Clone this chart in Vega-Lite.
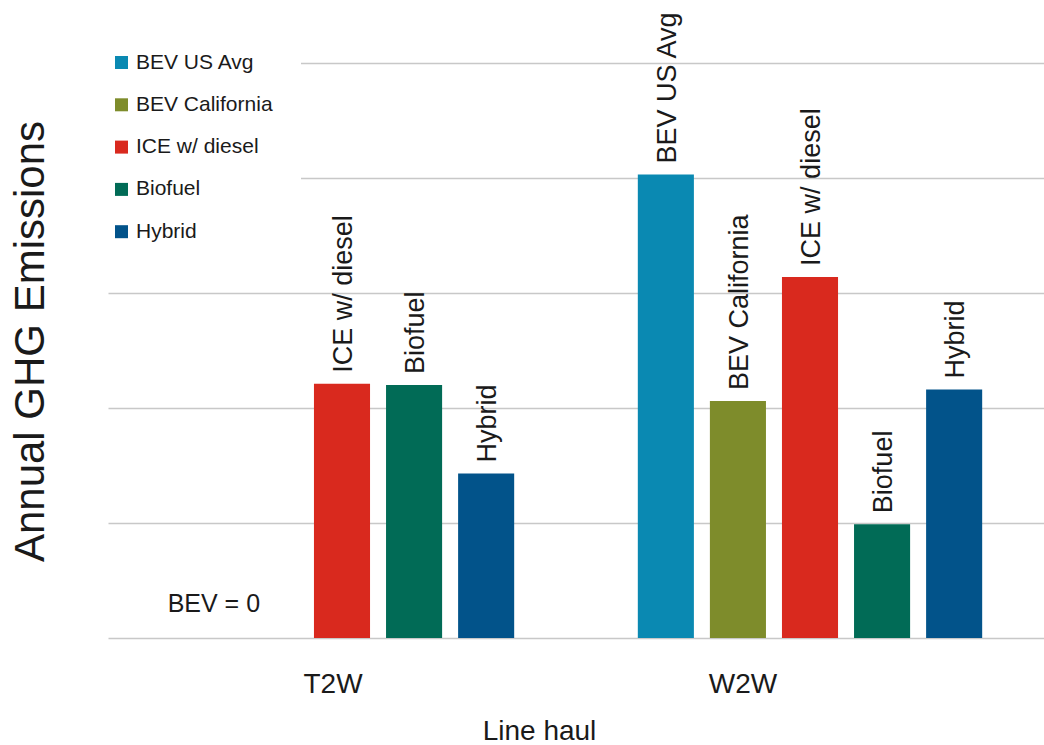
{
  "$schema": "https://vega.github.io/schema/vega-lite/v6.json",
  "width": 936,
  "height": 575,
  "autosize": {"type": "none"},
  "padding": {"left": 108, "top": 63, "right": 0, "bottom": 107},
  "background": "white",
  "config": {
    "view": {"stroke": null},
    "font": "Liberation Sans",
    "text": {"font": "Liberation Sans"}
  },
  "data": {
    "values": [
      {"group": "T2W", "vehicle": "BEV US Avg", "value": 0},
      {"group": "T2W", "vehicle": "BEV California", "value": 0},
      {"group": "T2W", "vehicle": "ICE w/ diesel", "value": 2.21},
      {"group": "T2W", "vehicle": "Biofuel", "value": 2.2},
      {"group": "T2W", "vehicle": "Hybrid", "value": 1.43},
      {"group": "W2W", "vehicle": "BEV US Avg", "value": 4.03},
      {"group": "W2W", "vehicle": "BEV California", "value": 2.06},
      {"group": "W2W", "vehicle": "ICE w/ diesel", "value": 3.14},
      {"group": "W2W", "vehicle": "Biofuel", "value": 0.99},
      {"group": "W2W", "vehicle": "Hybrid", "value": 2.16}
    ]
  },
  "encoding": {
    "x": {
      "field": "group",
      "type": "nominal",
      "scale": {"paddingInner": 0.23, "paddingOuter": 0.115},
      "axis": {
        "orient": "bottom",
        "domain": false,
        "ticks": false,
        "tickSize": 0,
        "labelAngle": 0,
        "labelFontSize": 28,
        "labelColor": "#1a1a1a",
        "labelPadding": 32,
        "labelOffset": {"condition": {"test": "datum.value === 'W2W'", "value": -67}, "value": -9},
        "title": "Line haul",
        "titleFontSize": 28,
        "titleFontWeight": "normal",
        "titleColor": "#1a1a1a",
        "titleX": 431,
        "titleY": 101,
        "titleAlign": "center",
        "titleBaseline": "alphabetic"
      }
    },
    "xOffset": {
      "field": "vehicle",
      "type": "nominal",
      "scale": {
        "domain": ["BEV US Avg", "BEV California", "ICE w/ diesel", "Biofuel", "Hybrid"],
        "paddingInner": 0.222,
        "paddingOuter": 0.111
      }
    },
    "y": {
      "field": "value",
      "type": "quantitative",
      "scale": {"domain": [0, 5], "nice": false},
      "axis": {
        "values": [0, 1, 2, 3, 4, 5],
        "domain": false,
        "ticks": false,
        "labels": false,
        "grid": true,
        "gridColor": "#c8c8c8",
        "gridWidth": 1.5,
        "title": "Annual GHG Emissions",
        "titleFontSize": 42,
        "titleFontWeight": "normal",
        "titleColor": "#1a1a1a",
        "titleAngle": -90,
        "titleX": -65,
        "titleY": 278,
        "titleAlign": "center",
        "titleBaseline": "alphabetic"
      }
    }
  },
  "layer": [
    {
      "mark": {"type": "bar"},
      "encoding": {
        "color": {
          "field": "vehicle",
          "type": "nominal",
          "scale": {
            "domain": ["BEV US Avg", "BEV California", "ICE w/ diesel", "Biofuel", "Hybrid"],
            "range": ["#0a89b2", "#7e8c2b", "#d9291e", "#016b56", "#02538a"]
          },
          "legend": {
            "orient": "none",
            "legendX": -25,
            "legendY": -39,
            "padding": 28,
            "fillColor": "white",
            "title": null,
            "symbolType": "square",
            "symbolSize": 169,
            "symbolStrokeWidth": 0,
            "labelFontSize": 21,
            "labelColor": "#1a1a1a",
            "labelOffset": 4,
            "rowPadding": 20.3,
            "labelLimit": 400
          }
        }
      }
    },
    {
      "transform": [{"filter": "datum.value > 0"}],
      "mark": {
        "type": "text",
        "angle": -90,
        "align": "left",
        "baseline": "alphabetic",
        "dx": 11,
        "dy": 10,
        "fontSize": 27,
        "color": "#1a1a1a"
      },
      "encoding": {"text": {"field": "vehicle"}}
    },
    {
      "data": {"values": [{"group": "T2W", "vehicle": "BEV US Avg", "value": 0, "note": "BEV = 0"}]},
      "mark": {
        "type": "text",
        "align": "center",
        "baseline": "alphabetic",
        "dx": 16,
        "dy": -26,
        "fontSize": 25,
        "color": "#1a1a1a"
      },
      "encoding": {"text": {"field": "note"}}
    }
  ]
}
